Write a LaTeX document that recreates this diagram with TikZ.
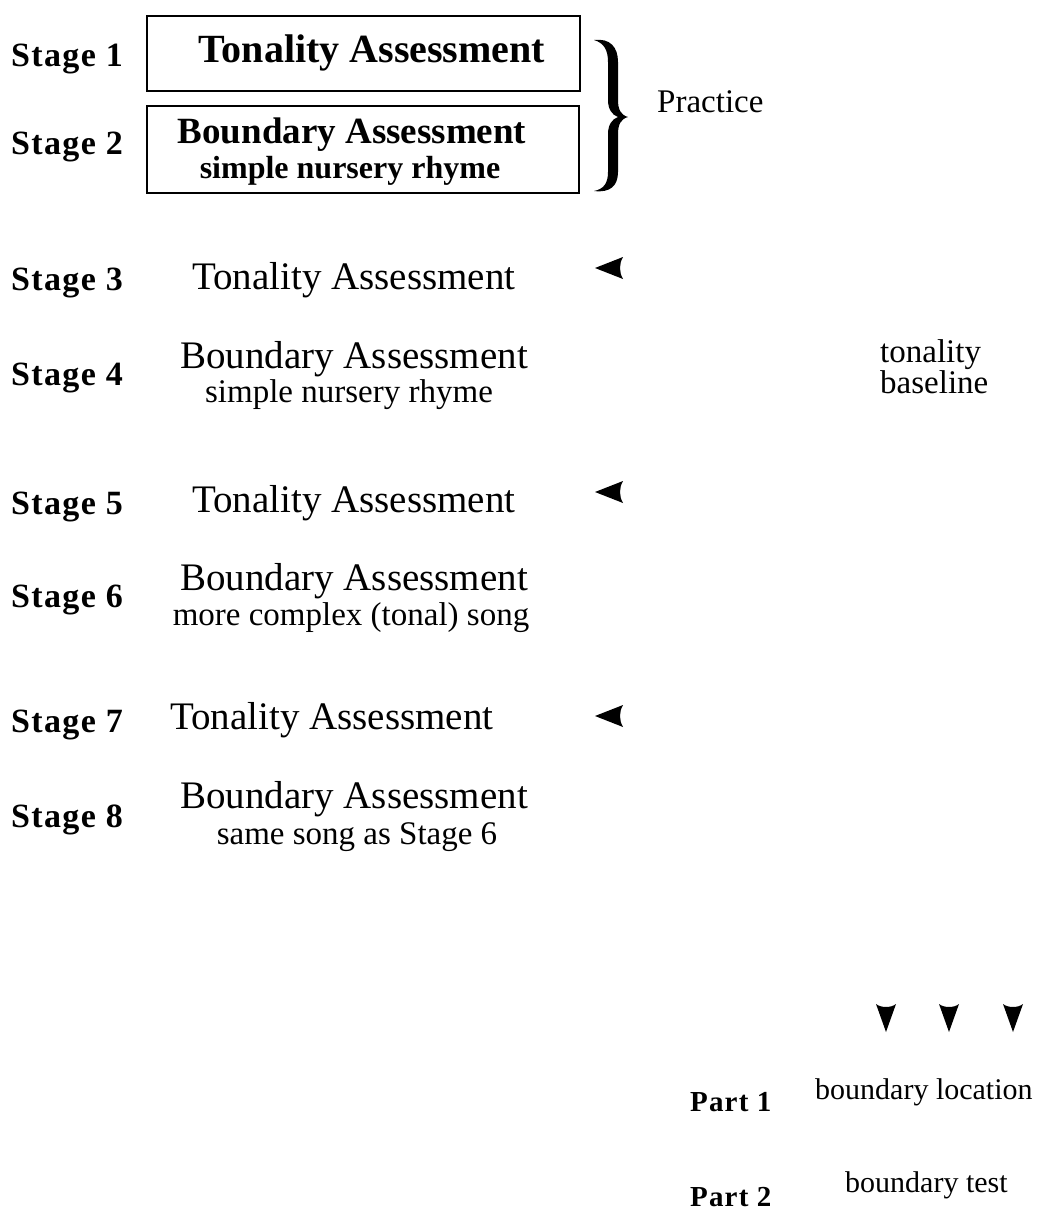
\documentclass[tikz,border=0pt]{standalone}
\usepackage{fontspec}
\setmainfont{Liberation Serif}
\newfontfamily\stagefont[LetterSpace=4]{Liberation Serif Bold}
\tikzset{
 stagelbl/.style={anchor=base west, inner sep=0pt, font=\stagefont\fontsize{34}{36}\selectfont},
 partlbl/.style={anchor=base west, inner sep=0pt, font=\stagefont\fontsize{29}{31}\selectfont},
 maintxt/.style={anchor=base west, inner sep=0pt, font=\fontsize{39}{41}\selectfont},
 subtxt/.style={anchor=base, inner sep=0pt, font=\fontsize{33}{35}\selectfont},
 sidetxt/.style={anchor=base west, inner sep=0pt, font=\fontsize{33}{35}\selectfont},
 smalltxt/.style={anchor=base west, inner sep=0pt, font=\fontsize{30}{32}\selectfont},
 framebox/.style={draw, line width=1.4pt, inner sep=0pt},
 pics/larrow/.style={code={\fill (0,0) -- (28,-11) .. controls (24,-4) and (24,4) .. (28,11) -- cycle;}},
 pics/darrow/.style={code={\fill (0,0) -- (-10,-28) .. controls (-5,-24) and (5,-24) .. (10,-28) -- cycle;}},
}
\begin{document}
\begin{tikzpicture}[x=1pt,y=-1pt]
\useasboundingbox (0,0) rectangle (1059,1216);
% practice boxes
\node[framebox, minimum width=433pt, minimum height=75pt] (box1) at (363.5,53.5) {};
\node[framebox, minimum width=432pt, minimum height=87pt] (box2) at (363,149.5) {};
\node[anchor=base, inner sep=0pt, font=\bfseries\fontsize{40}{42}\selectfont] (t1) at (372,62) {Tonality Assessment};
\node[anchor=base, inner sep=0pt, font=\bfseries\fontsize{37}{39}\selectfont] (b2) at (352,143) {Boundary Assessment};
\node[anchor=base, inner sep=0pt, font=\bfseries\fontsize{32}{34}\selectfont] (s2) at (350,178) {simple nursery rhyme};
% brace
\fill (594,40) .. controls (610,38) and (618,47) .. (618,62) -- (618,100)
  .. controls (618,110) and (621,115) .. (628,117)
  .. controls (621,119) and (618,124) .. (618,134) -- (618,172)
  .. controls (618,186) and (610,193) .. (594,191)
  .. controls (604,189) and (608,183) .. (608,172) -- (608,134)
  .. controls (608,125) and (612,119) .. (618,117)
  .. controls (612,115) and (608,109) .. (608,100) -- (608,62)
  .. controls (608,50) and (604,43) .. (594,40) -- cycle;
\node[sidetxt] (practice) at (657,112) {Practice};
% stage labels
\node[stagelbl] (st1) at (11,66) {Stage 1};
\node[stagelbl] (st2) at (11,154) {Stage 2};
\node[stagelbl] (st3) at (11,290) {Stage 3};
\node[stagelbl] (st4) at (11,385) {Stage 4};
\node[stagelbl] (st5) at (11,514) {Stage 5};
\node[stagelbl] (st6) at (11,607) {Stage 6};
\node[stagelbl] (st7) at (11,732) {Stage 7};
\node[stagelbl] (st8) at (11,827) {Stage 8};
% stage contents
\node[maintxt] (t3) at (192,289) {Tonality Assessment};
\node[maintxt] (b4) at (180,368) {Boundary Assessment};
\node[subtxt] (s4) at (349,402) {simple nursery rhyme};
\node[maintxt] (t5) at (192,512) {Tonality Assessment};
\node[maintxt] (b6) at (180,590) {Boundary Assessment};
\node[subtxt] (s6) at (351,625) {more complex (tonal) song};
\node[maintxt] (t7) at (170,729) {Tonality Assessment};
\node[maintxt] (b8) at (180,808) {Boundary Assessment};
\node[subtxt] (s8) at (357,844) {same song as Stage 6};
% left arrowheads
\pic at (595,268) {larrow};
\pic at (595,492) {larrow};
\pic at (595,716) {larrow};
% tonality baseline
\node[sidetxt] (tb1) at (880,362) {tonality};
\node[sidetxt] (tb2) at (880,393) {baseline};
% down arrowheads
\pic at (886,1032) {darrow};
\pic at (949,1032) {darrow};
\pic at (1013,1032) {darrow};
% parts
\node[partlbl] (p1) at (690,1111) {Part 1};
\node[smalltxt] (bl) at (815,1099) {boundary location};
\node[partlbl] (p2) at (690,1206) {Part 2};
\node[smalltxt] (bt) at (845,1192) {boundary test};
\end{tikzpicture}
\end{document}
